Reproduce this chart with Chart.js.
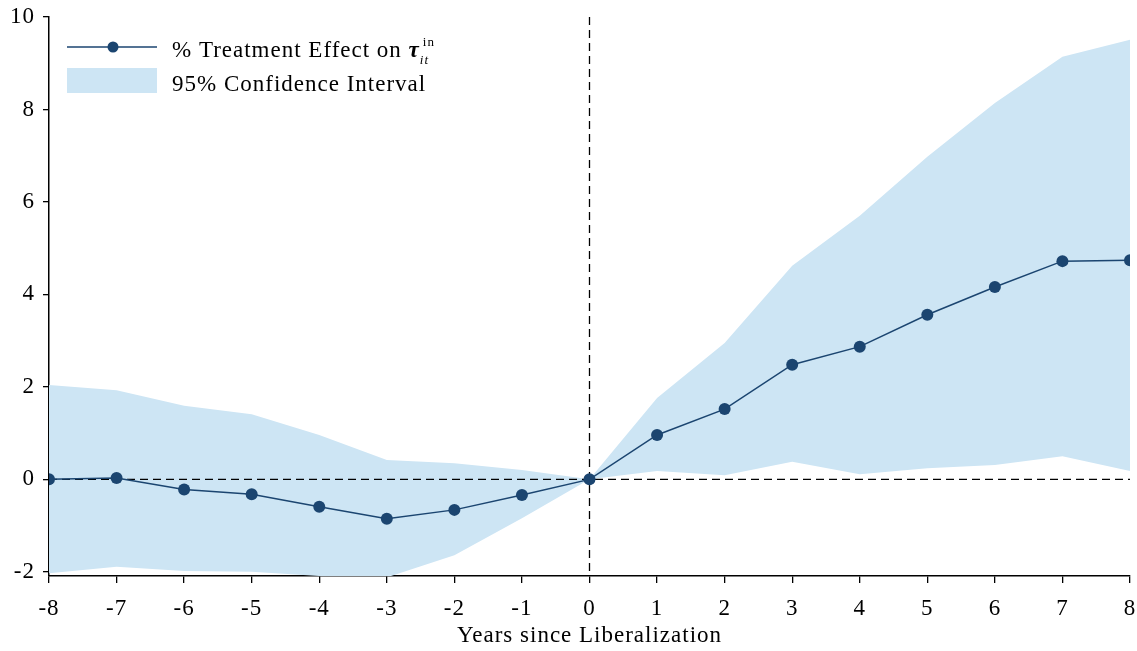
<!DOCTYPE html>
<html>
<head>
<meta charset="utf-8">
<script src="https://cdn.jsdelivr.net/npm/chart.js@4.4.0/dist/chart.umd.min.js"></script>
<style>
  html, body { margin: 0; padding: 0; background: #fff; }
  #wrap { width: 1137px; height: 651px; }
</style>
</head>
<body>
<div id="wrap"><canvas id="myChart" width="1137" height="651"></canvas></div>
<script>
// years relative to liberalization
const years = [-8, -7, -6, -5, -4, -3, -2, -1, 0, 1, 2, 3, 4, 5, 6, 7, 8];
const effect = [0, 0.03, -0.22, -0.32, -0.59, -0.85, -0.66, -0.34, 0, 0.96, 1.52, 2.48, 2.87, 3.56, 4.16, 4.72, 4.74];
const ciUpper = [2.04, 1.93, 1.59, 1.41, 0.96, 0.42, 0.35, 0.2, 0, 1.76, 2.95, 4.62, 5.70, 6.98, 8.14, 9.14, 9.51];
const ciLower = [-2.03, -1.89, -1.98, -2.0, -2.09, -2.12, -1.64, -0.84, 0, 0.18, 0.09, 0.38, 0.11, 0.24, 0.31, 0.5, 0.18];
const xTicks = [-8, -7, -6, -5, -4, -3, -2, -1, 0, 1, 2, 3, 4, 5, 6, 7, 8];
const yTicks = [-2, 0, 2, 4, 6, 8, 10];
const yMin = -2.09, yMax = 10;

const NAVY = '#1b4570';
const BAND = '#cde5f4';
const FONT = '"Liberation Serif", "DejaVu Serif", serif';

const pts = arr => years.map((x, i) => ({ x: x, y: arr[i] }));

// computer modern is wider than times, so space the letters a bit
const spacingPlugin = {
    id: 'spacing',
    beforeDraw(chart) { chart.ctx.letterSpacing = '1px'; }
};

// legend drawn by hand, needs the tau with sub/superscript
const legendPlugin = {
    id: 'handLegend',
    afterDraw(chart) {
        const ctx = chart.ctx;
        ctx.save();
        ctx.letterSpacing = '1px';
        // row 1: line + marker
        ctx.strokeStyle = NAVY;
        ctx.lineWidth = 1.5;
        ctx.beginPath();
        ctx.moveTo(67, 47);
        ctx.lineTo(157, 47);
        ctx.stroke();
        ctx.fillStyle = NAVY;
        ctx.beginPath();
        ctx.arc(113, 47, 5.5, 0, Math.PI * 2);
        ctx.fill();
        // row 2: band patch
        ctx.fillStyle = BAND;
        ctx.fillRect(67, 68, 90, 25);

        ctx.fillStyle = '#000';
        ctx.textBaseline = 'alphabetic';
        ctx.textAlign = 'left';
        ctx.font = '23px ' + FONT;
        const t1 = '% Treatment Effect on ';
        ctx.fillText(t1, 172, 57);
        let x = 172 + ctx.measureText(t1).width;
        ctx.font = 'italic bold 23px ' + FONT;
        ctx.fillText('τ', x, 57);
        x += ctx.measureText('τ').width;
        ctx.font = 'italic 13px ' + FONT;
        ctx.fillText('it', x, 64);
        ctx.font = '13px ' + FONT;
        ctx.fillText('in', x + 3, 46);

        ctx.font = '23px ' + FONT;
        ctx.fillText('95% Confidence Interval', 172, 91);
        ctx.restore();
    }
};

const ctx = document.getElementById('myChart').getContext('2d');
new Chart(ctx, {
    type: 'line',
    data: {
        datasets: [
            {
                label: 'effect',
                data: pts(effect),
                borderColor: NAVY,
                backgroundColor: NAVY,
                borderWidth: 1.5,
                pointRadius: 6,
                pointBackgroundColor: NAVY,
                pointBorderWidth: 0,
                fill: false,
                tension: 0
            },
            {
                label: 'zero',
                data: [{ x: xTicks[0], y: 0 }, { x: xTicks[xTicks.length - 1], y: 0 }],
                borderColor: '#000',
                borderWidth: 1.3,
                borderDash: [8, 5],
                pointRadius: 0,
                fill: false
            },
            {
                label: 'event',
                data: [{ x: 0, y: yMax }, { x: 0, y: yMin }],
                borderColor: '#000',
                borderWidth: 1.3,
                borderDash: [8, 5],
                pointRadius: 0,
                fill: false
            },
            {
                label: 'upper',
                data: pts(ciUpper),
                borderWidth: 0,
                borderColor: 'rgba(0,0,0,0)',
                pointRadius: 0,
                backgroundColor: BAND,
                fill: '+1',
                tension: 0
            },
            {
                label: 'lower',
                data: pts(ciLower),
                borderWidth: 0,
                borderColor: 'rgba(0,0,0,0)',
                pointRadius: 0,
                fill: false,
                tension: 0
            }
        ]
    },
    options: {
        responsive: false,
        animation: false,
        events: [],
        layout: { padding: { top: 17, right: 7, left: 0, bottom: 0 } },
        plugins: {
            legend: { display: false },
            tooltip: { enabled: false }
        },
        scales: {
            x: {
                type: 'linear',
                min: xTicks[0],
                max: xTicks[xTicks.length - 1],
                afterBuildTicks: s => { s.ticks = xTicks.map(v => ({ value: v })); },
                afterFit: s => { s.height = 75; s.paddingLeft = 0; s.paddingRight = 0; },
                grid: { display: true, drawOnChartArea: false, drawTicks: true, tickLength: 7, color: '#000', lineWidth: 1.3 },
                border: { display: true, color: '#000', width: 1.5 },
                ticks: { color: '#000', font: { family: FONT, size: 23 }, padding: 12, maxRotation: 0 },
                title: { display: true, text: 'Years since Liberalization', color: '#000', font: { family: FONT, size: 23 }, padding: { top: 0, bottom: 1 } }
            },
            y: {
                type: 'linear',
                min: yMin,
                max: yMax,
                afterBuildTicks: s => { s.ticks = yTicks.map(v => ({ value: v })); },
                afterFit: s => { s.width = 49; s.paddingTop = 0; s.paddingBottom = 0; },
                grid: { display: true, drawOnChartArea: false, drawTicks: true, tickLength: 6, color: '#000', lineWidth: 1.3 },
                border: { display: true, color: '#000', width: 1.5 },
                ticks: { color: '#000', font: { family: FONT, size: 23 }, padding: 8 }
            }
        }
    },
    plugins: [spacingPlugin, legendPlugin]
});
</script>
</body>
</html>
